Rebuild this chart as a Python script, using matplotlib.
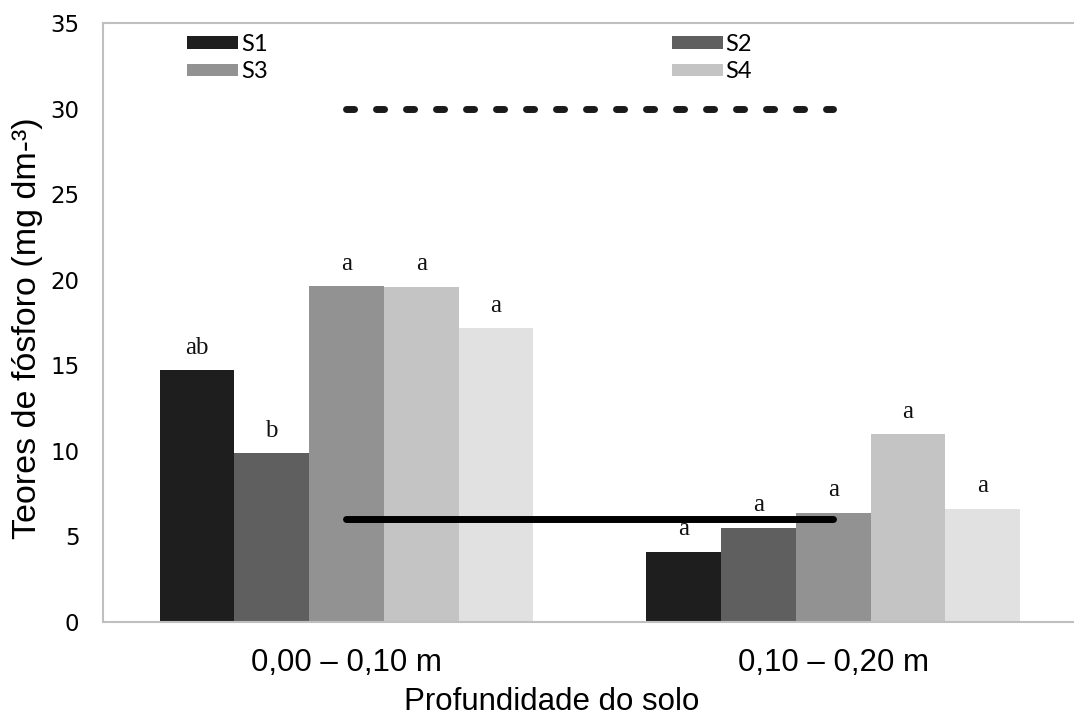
import numpy as np
import matplotlib.pyplot as plt

# dados
profundidades = ['0,00 – 0,10 m', '0,10 – 0,20 m']
series = ['S1', 'S2', 'S3', 'S4', 'S5']
s1 = [14.73, 4.11]
s2 = [9.86, 5.51]
s3 = [19.64, 6.39]
s4 = [19.60, 10.97]
s5 = [17.17, 6.62]
letras = [['ab', 'a'], ['b', 'a'], ['a', 'a'], ['a', 'a'], ['a', 'a']]
linha_tracejada = 30
linha_solida = 6

cores = ['#1e1e1e', '#5f5f5f', '#929292', '#c4c4c4', '#e1e1e1']
valores = [s1, s2, s3, s4, s5]

fig = plt.figure(figsize=(10.74, 7.18), dpi=100)
ax = fig.add_axes([0.0959, 0.1337, 0.9067, 0.8343])

x = np.arange(len(profundidades))
larg = 0.1535
barras = []
for i, (vals, cor) in enumerate(zip(valores, cores)):
    pos = x + (i - 2) * larg
    lab = series[i] if i < 4 else '_nolegend_'
    b = ax.bar(pos, vals, width=larg, color=cor, label=lab, zorder=2)
    barras.append(b)
    for p, v, t in zip(pos, vals, letras[i]):
        ax.text(p, v + 1.3, t, ha='center', va='center', fontsize=18,
                family='Liberation Serif', color='#111111', zorder=4)

# linhas de referencia
ax.plot([x[0], x[1]], [linha_solida] * 2, color='black', lw=5,
        solid_capstyle='round', zorder=3)
ln, = ax.plot([x[0], x[1]], [linha_tracejada] * 2, color='#1a1a1a', lw=5,
              dash_capstyle='round', zorder=3)
ln.set_dashes([1.16, 3.16])

ax.set_xlim(-0.5, 1.5)
ax.set_ylim(0, 35)
ax.set_yticks(np.arange(0, 36, 5))
ax.set_xticks(x)
ax.set_xticklabels(profundidades, family='Liberation Sans', fontsize=22.5)
ax.tick_params(axis='x', length=0, pad=19)
ax.tick_params(axis='y', length=0, pad=17, labelsize=16.5)

for s in ['left', 'top', 'bottom']:
    ax.spines[s].set_color('#bfbfbf')
    ax.spines[s].set_linewidth(1.5)
ax.spines['right'].set_visible(False)

ax.set_ylabel('Teores de fósforo (mg dm-³)', family='Liberation Sans', fontsize=24.5)
ax.yaxis.set_label_coords(-0.062, 0.49)
ax.set_xlabel('Profundidade do solo', family='Liberation Sans', fontsize=22.5)
ax.xaxis.set_label_coords(0.461, -0.108)

# legenda em duas colunas (ordem por linhas)
hs = [barras[0], barras[2], barras[1], barras[3]]
ls = [series[0], series[2], series[1], series[3]]
leg = ax.legend(hs, ls, ncol=2, loc='upper left', bbox_to_anchor=(0.0863, 0.9816),
                frameon=False, prop={'family': 'Lato', 'size': 17},
                handlelength=2.16, handleheight=0.42, handletextpad=0.13,
                columnspacing=17.1, labelspacing=0.27, borderaxespad=0,
                borderpad=0)

fig.savefig('out.png', dpi=100)
